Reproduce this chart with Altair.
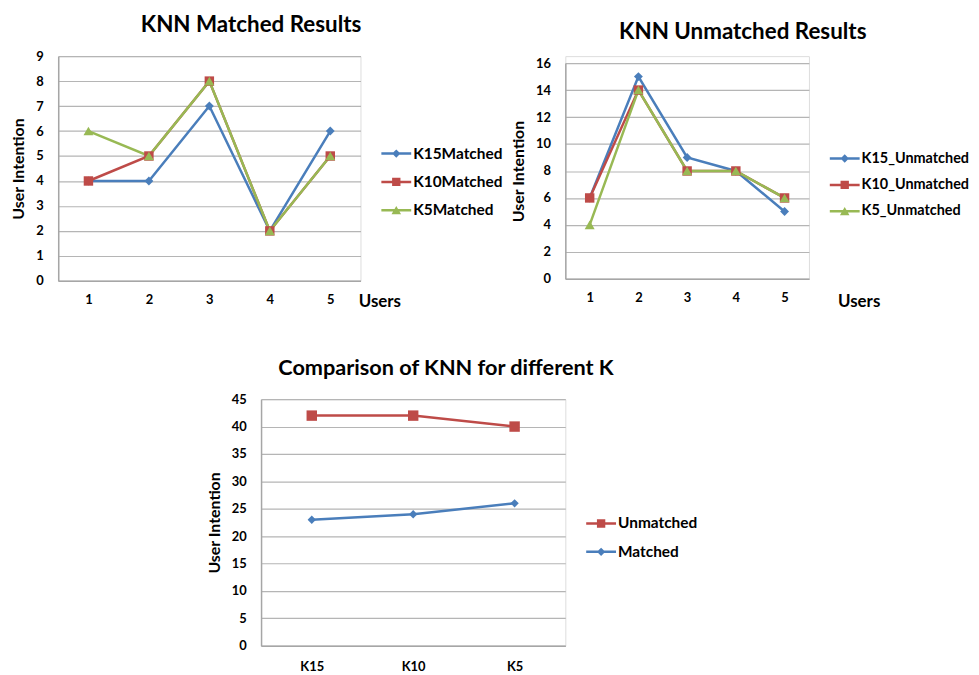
import altair as alt
import pandas as pd

# ---------------- data ----------------
users = ["1", "2", "3", "4", "5"]

matched_names = ["K15Matched", "K10Matched", "K5Matched"]
k15_matched = [4, 4, 7, 2, 6]
k10_matched = [4, 5, 8, 2, 5]
k5_matched = [6, 5, 8, 2, 5]

unmatched_names = ["K15_Unmatched", "K10_Unmatched", "K5_Unmatched"]
k15_unmatched = [6, 15, 9, 8, 5]
k10_unmatched = [6, 14, 8, 8, 6]
k5_unmatched = [4, 14, 8, 8, 6]

k_labels = ["K15", "K10", "K5"]
comparison_names = ["Unmatched", "Matched"]
unmatched_totals = [42, 42, 40]
matched_totals = [23, 24, 26]

# ---------------- style ----------------
BLUE = "#4a7ebb"
RED = "#be4b48"
GREEN = "#98b954"
GRID = "#b5b5b5"
AXIS = "#a6a6a6"
FONT = "Lato"

# legend symbols: a short line with the marker on it (unit square -1..1)
LINE = "M-1,-0.083H1V0.083H-1Z"
LEG_DIAMOND = LINE + "M0,-0.28L0.28,0L0,0.28L-0.28,0Z"
LEG_SQUARE = LINE + "M-0.28,-0.28H0.28V0.28H-0.28Z"
LEG_TRIANGLE = LINE + "M0,-0.28L0.32,0.26H-0.32Z"


def long_df(xs, names, series):
    rows = []
    for name, vals in zip(names, series):
        for x, v in zip(xs, vals):
            rows.append({"x": x, "value": v, "series": name})
    return pd.DataFrame(rows)


def panel(df, xs, names, colors, shapes, sizes, leg_paths, width, height,
          ydomain, yvalues, yrange, title, title_dx, title_offset,
          legend_x, legend_y, xtitle=None, xtitle_pos=None, xlabel_pad=13,
          legend_font=15.5, title_font=22.5):
    if yrange is not None:
        yscale = alt.Scale(domain=ydomain, nice=False, zero=True, range=yrange)
    else:
        yscale = alt.Scale(domain=ydomain, nice=False, zero=True)
    xaxis_kw = dict(labelAngle=0, ticks=False, grid=False, domainColor=AXIS,
                    domainWidth=1.5, labelFont=FONT, labelFontWeight="bold",
                    labelFontSize=13, labelColor="black", labelPadding=xlabel_pad)
    if xtitle:
        xaxis_kw.update(title=xtitle, titleFont=FONT, titleFontWeight="bold",
                        titleFontSize=17, titleColor="black",
                        titleX=xtitle_pos[0], titleY=xtitle_pos[1],
                        titleAlign="center", titleBaseline="middle")
    else:
        xaxis_kw.update(title=None)
    x = alt.X("x:N", sort=xs, scale=alt.Scale(type="point", padding=0.5),
              axis=alt.Axis(**xaxis_kw))
    y = alt.Y("value:Q", scale=yscale,
              axis=alt.Axis(values=yvalues, ticks=False, grid=True,
                            gridColor=GRID, gridWidth=1.2, domainColor=AXIS,
                            domainWidth=1.5, labelFont=FONT,
                            labelFontWeight="bold", labelFontSize=13,
                            labelColor="black", labelPadding=15,
                            title="User Intention", titleFont=FONT,
                            titleFontWeight="bold", titleFontSize=16,
                            titleColor="black", titlePadding=9))
    base = alt.Chart(df)
    layers = []
    for name, c in zip(names, colors):
        layers.append(base.transform_filter(alt.datum.series == name)
                      .mark_line(color=c, strokeWidth=2.5)
                      .encode(x=x, y=y))
    for name, c, s, sz in zip(names, colors, shapes, sizes):
        layers.append(base.transform_filter(alt.datum.series == name)
                      .mark_point(shape=s, filled=True, size=sz, color=c,
                                  opacity=1)
                      .encode(x=x, y=y))
    leg = alt.Legend(title=None, orient="none", legendX=legend_x,
                     legendY=legend_y, labelFont=FONT, labelFontWeight="bold",
                     labelFontSize=legend_font, labelColor="black", labelOffset=2,
                     symbolSize=900, symbolStrokeWidth=0, symbolOpacity=1,
                     rowPadding=4.5, padding=0)
    layers.append(base.mark_point(filled=True, opacity=0).encode(
        x=x, y=y,
        color=alt.Color("series:N", scale=alt.Scale(domain=names, range=colors),
                        legend=leg),
        shape=alt.Shape("series:N", scale=alt.Scale(domain=names, range=leg_paths),
                        legend=leg),
    ))
    return alt.layer(*layers).properties(
        width=width, height=height,
        title=alt.TitleParams(title, font=FONT, fontSize=title_font,
                              fontWeight="bold", color="black", anchor="middle",
                              frame="group", dx=title_dx, offset=title_offset),
    )


df1 = long_df(users, matched_names, [k15_matched, k10_matched, k5_matched])
df2 = long_df(users, unmatched_names, [k15_unmatched, k10_unmatched, k5_unmatched])
df3 = long_df(k_labels, comparison_names, [unmatched_totals, matched_totals])

p1 = panel(df1, users, matched_names, [BLUE, RED, GREEN],
           ["diamond", "square", "triangle-up"], [80, 90, 100],
           [LEG_DIAMOND, LEG_SQUARE, LEG_TRIANGLE],
           304, 226, [0, 9], list(range(0, 10)), None,
           "KNN Matched Results", 42, 14, 325, 83,
           xtitle="Users", xtitle_pos=[323, 21])

p2 = panel(df2, users, unmatched_names, [BLUE, RED, GREEN],
           ["diamond", "square", "triangle-up"], [80, 90, 100],
           [LEG_DIAMOND, LEG_SQUARE, LEG_TRIANGLE],
           245, 224, [0, 16], list(range(0, 17, 2)), [224, 7],
           "KNN Unmatched Results", 56, 13, 266, 88,
           xtitle="Users", xtitle_pos=[295, 23], legend_font=14.5)

p3 = panel(df3, k_labels, comparison_names, [RED, BLUE],
           ["square", "diamond"], [110, 70],
           [LEG_SQUARE, LEG_DIAMOND],
           306, 248, [0, 45], list(range(0, 46, 5)), None,
           "Comparison of KNN for different K", 33, 14, 327, 110,
           xlabel_pad=15, title_font=21.8)

spacer = alt.Chart(pd.DataFrame({"v": [0]})).mark_point(opacity=0).properties(
    width=204, height=1)

row1 = alt.hconcat(p1, p2, spacing=206, bounds="flush").resolve_scale(
    color="independent", shape="independent")
row2 = alt.hconcat(spacer, p3, spacing=0, bounds="flush").resolve_scale(
    color="independent", shape="independent")

chart = alt.vconcat(row1, row2, spacing=345, bounds="flush").resolve_scale(
    color="independent", shape="independent"
).properties(
    padding={"left": 1.5, "top": 3.5, "right": 0, "bottom": 0}
).configure_view(stroke=None).configure(background="white")

chart.save("out.html", embed_options={"renderer": "svg", "actions": False})
